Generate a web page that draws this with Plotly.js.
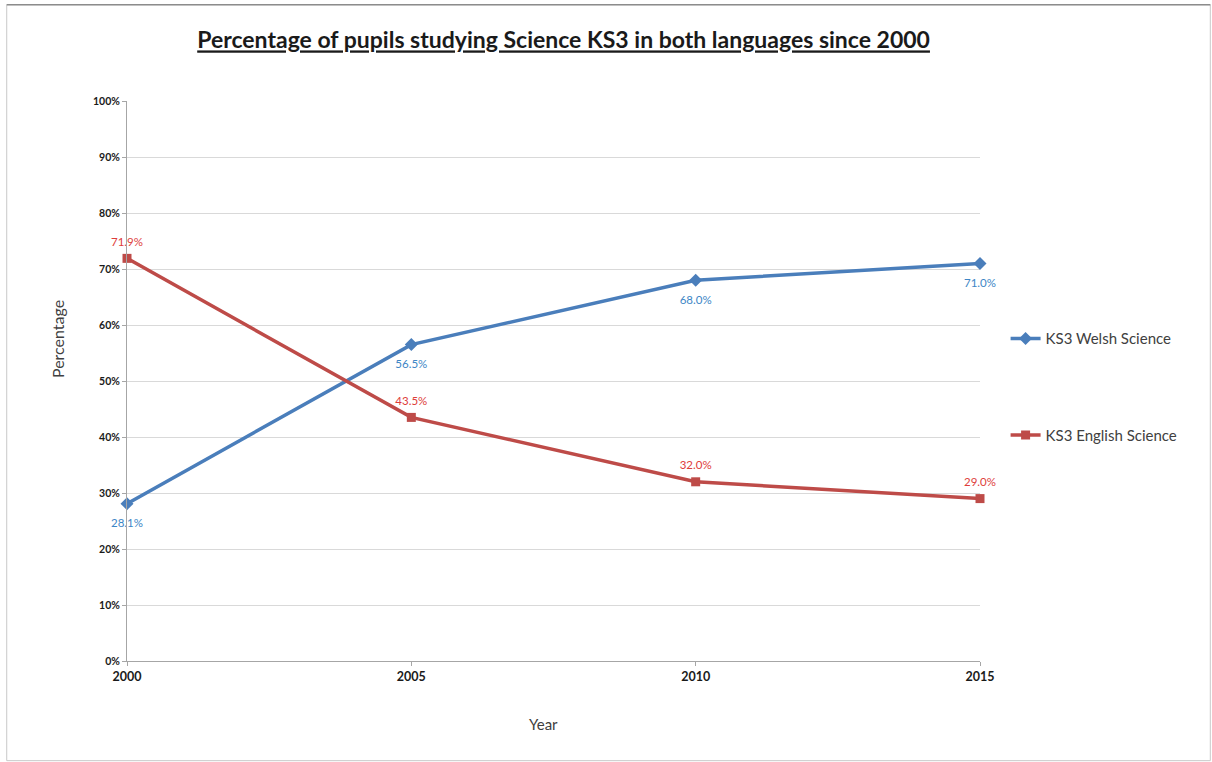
<!DOCTYPE html>
<html>
<head>
<meta charset="utf-8">
<script src="https://cdn.plot.ly/plotly-3.0.1.min.js"></script>
<style>
  html, body { margin: 0; padding: 0; background: #ffffff; }
  #chart { width: 1212px; height: 762px; }
</style>
</head>
<body>
<div id="chart"></div>
<script>
// Survey years
const years = [2000, 2005, 2010, 2015];

// Share of KS3 pupils (%) by teaching language
const welshScience = [28.1, 56.5, 68.0, 71.0];
const englishScience = [71.9, 43.5, 32.0, 29.0];

const seriesNames = ['KS3 Welsh Science', 'KS3 English Science'];

// y axis ticks
const yTicks = [0, 10, 20, 30, 40, 50, 60, 70, 80, 90, 100];
const yTickText = yTicks.map(v => v + '%');

const FONT = 'Lato, "Open Sans", "Liberation Sans", sans-serif';
const BLUE = '#4a7ebb';
const RED = '#be4b48';

const fmt = v => v.toFixed(1) + '%';

// a transparent marker pushes each value label a little further from its point
const labelTrace = (vals, pos, color, gap) => ({
  x: years, y: vals,
  type: 'scatter', mode: 'markers+text',
  marker: { size: gap, color: 'rgba(0,0,0,0)' },
  text: vals.map(fmt),
  textposition: pos,
  textfont: { family: FONT, size: 11.5, color: color },
  showlegend: false, hoverinfo: 'skip', cliponaxis: false
});

const traces = [
  {
    x: years, y: welshScience, name: seriesNames[0],
    type: 'scatter', mode: 'lines+markers',
    line: { color: BLUE, width: 3.5 },
    marker: { symbol: 'diamond', size: 10, color: BLUE },
    legendgroup: 'w', cliponaxis: false
  },
  {
    x: years, y: englishScience, name: seriesNames[1],
    type: 'scatter', mode: 'lines+markers',
    line: { color: RED, width: 3.5 },
    marker: { symbol: 'square', size: 9, color: RED },
    legendgroup: 'e', cliponaxis: false
  },
  labelTrace(welshScience, 'bottom center', '#3d86c6', 22),
  labelTrace(englishScience, 'top center', '#de3d3a', 14)
];

const layout = {
  width: 1212, height: 762,
  paper_bgcolor: '#ffffff', plot_bgcolor: '#ffffff',
  margin: { l: 127, r: 232, t: 101, b: 101 },
  font: { family: FONT, color: '#404040' },
  showlegend: true,
  title: {
    text: '<u><b>Percentage of pupils studying Science KS3 in both languages since 2000</b></u>',
    font: { family: FONT, size: 23, color: '#1a1a1a' },
    x: 0.465, xanchor: 'center', y: 0.947, yanchor: 'middle'
  },
  xaxis: {
    type: 'linear', range: [2000, 2015],
    tickvals: years, ticktext: years.map(String),
    showgrid: false, zeroline: false,
    showline: true, linecolor: '#a6a6a6', linewidth: 1,
    ticks: 'outside', ticklen: 4, tickcolor: '#a6a6a6',
    tickfont: { family: FONT, size: 12.5, color: '#1a1a1a', weight: 'bold' },
    fixedrange: true
  },
  yaxis: {
    range: [0, 100],
    tickvals: yTicks, ticktext: yTickText,
    showgrid: true, gridcolor: '#d9d9d9', gridwidth: 1,
    zeroline: false,
    showline: true, linecolor: '#a6a6a6', linewidth: 1,
    ticks: 'outside', ticklen: 4, tickcolor: '#a6a6a6',
    tickfont: { family: FONT, size: 10.5, color: '#1a1a1a', weight: 'bold' },
    fixedrange: true
  },
  legend: {
    x: 1.03, xanchor: 'left', y: 0.605, yanchor: 'top',
    font: { family: FONT, size: 15, color: '#404040' },
    tracegroupgap: 74, itemwidth: 30,
    bgcolor: 'rgba(0,0,0,0)'
  },
  annotations: [
    {
      text: 'Percentage', xref: 'paper', yref: 'paper',
      x: -0.082, y: 0.575, xanchor: 'center', yanchor: 'middle',
      textangle: -90, showarrow: false,
      font: { family: FONT, size: 16, color: '#404040' }
    },
    {
      text: 'Year', xref: 'paper', yref: 'paper',
      x: 0.488, y: -0.113, xanchor: 'center', yanchor: 'middle',
      showarrow: false,
      font: { family: FONT, size: 15, color: '#404040' }
    }
  ],
  shapes: [
    {
      type: 'rect', xref: 'paper', yref: 'paper',
      x0: -0.141, x1: 1.27, y0: -0.178, y1: 1.172,
      line: { color: '#c8c8c8', width: 1 }, fillcolor: 'rgba(0,0,0,0)',
      layer: 'below'
    },
    {
      type: 'line', xref: 'paper', yref: 'paper',
      x0: -0.141, x1: 1.27, y0: 1.172, y1: 1.172,
      line: { color: '#8c8c8c', width: 1.5 }
    }
  ]
};

Plotly.newPlot('chart', traces, layout, { displayModeBar: false, staticPlot: true });
</script>
</body>
</html>
